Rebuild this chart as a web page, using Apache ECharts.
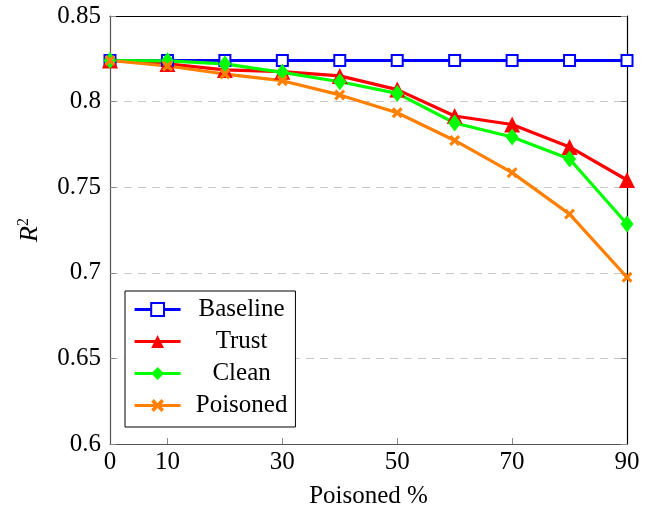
<!DOCTYPE html>
<html>
<head>
<meta charset="utf-8">
<script src="https://cdn.jsdelivr.net/npm/echarts@6/dist/echarts.min.js"></script>
<style>
  html, body { margin: 0; padding: 0; background: #fff; }
  #chart { width: 655px; height: 514px; }
</style>
</head>
<body>
<div id="chart"></div>
<script>
// poisoned percentage (x)
const poisonedPct = [0, 10, 20, 30, 40, 50, 60, 70, 80, 90];
const xTickLabels = [0, 10, 30, 50, 70, 90];

// R^2 values
const baseline = [0.824, 0.824, 0.824, 0.824, 0.824, 0.824, 0.824, 0.824, 0.824, 0.824];
const trust    = [0.824, 0.822, 0.8185, 0.8175, 0.815, 0.807, 0.7916, 0.7866, 0.7735, 0.7542];
const clean    = [0.824, 0.8238, 0.822, 0.8171, 0.8116, 0.8048, 0.7875, 0.7793, 0.7665, 0.7285];
const poisoned = [0.824, 0.8208, 0.8161, 0.8122, 0.8039, 0.7935, 0.7773, 0.7585, 0.7343, 0.6974];

const font = 'Liberation Serif';
const pairs = vals => poisonedPct.map((x, i) => [x, vals[i]]);

const crossPath = 'path://M2,0 L5,3 L8,0 L10,2 L7,5 L10,8 L8,10 L5,7 L2,10 L0,8 L3,5 L0,2 Z';

function mkSeries(name, vals, color, symbol, size) {
  const empty = symbol === 'emptyRect';
  return {
    name: name,
    type: 'line',
    data: pairs(vals),
    symbol: symbol,
    symbolSize: size,
    showSymbol: true,
    lineStyle: { color: color, width: 3.2 },
    itemStyle: {
      color: color,
      borderColor: color,
      borderWidth: empty ? 3 : 0
    },
    emphasis: { disabled: true },
    animation: false
  };
}

const chart = echarts.init(document.getElementById('chart'));
chart.setOption({
  animation: false,
  grid: { left: 110, right: 28, top: 16, bottom: 70 },
  legend: {
    left: 125,
    top: 291,
    orient: 'vertical',
    itemGap: 7,
    itemWidth: 46,
    itemHeight: 16,
    padding: [6, 8, 9, 8],
    borderColor: '#000',
    borderWidth: 1,
    backgroundColor: '#fff',
    lineStyle: { width: 3.2 },
    formatter: '{t|{name}}',
    textStyle: {
      rich: {
        t: { width: 112, height: 25, align: 'center', fontFamily: font, fontSize: 25, color: '#000' }
      }
    },
    data: ['Baseline', 'Trust', 'Clean', 'Poisoned']
  },
  xAxis: [{
    type: 'value',
    min: 0,
    max: 90,
    name: 'Poisoned %',
    nameLocation: 'middle',
    nameGap: 40,
    nameTextStyle: { fontFamily: font, fontSize: 25, color: '#000' },
    axisLine: { show: true, onZero: false, lineStyle: { color: '#555', width: 1.2 } },
    axisTick: { show: true, inside: true, length: 6, customValues: xTickLabels.slice(1, -1), lineStyle: { color: '#888' } },
    axisLabel: { customValues: xTickLabels, fontFamily: font, fontSize: 25, color: '#000', margin: 6 },
    splitLine: { show: false }
  }, {
    type: 'value',
    min: 0,
    max: 90,
    position: 'top',
    axisLine: { show: true, onZero: false, lineStyle: { color: '#000', width: 1.2 } },
    axisTick: { show: false },
    axisLabel: { show: false },
    splitLine: { show: false }
  }],
  yAxis: [{
    type: 'value',
    min: 0.6,
    max: 0.85,
    interval: 0.05,
    name: '{i|R}{s|2}',
    nameLocation: 'middle',
    nameRotate: 90,
    nameGap: 66,
    nameTextStyle: {
      rich: {
        i: { fontFamily: font, fontStyle: 'italic', fontSize: 26, color: '#000' },
        s: { fontFamily: font, fontSize: 16, color: '#000', verticalAlign: 'top', padding: [0, 0, 12, 0] }
      }
    },
    axisLine: { show: true, onZero: false, lineStyle: { color: '#555', width: 1.2 } },
    axisTick: { show: true, inside: true, length: 6, lineStyle: { color: '#888' } },
    axisLabel: {
      fontFamily: font, fontSize: 25, color: '#000', margin: 9,
      formatter: v => String(parseFloat(v.toFixed(2)))
    },
    splitLine: { show: true, lineStyle: { color: '#c8c8c8', type: [8, 6], width: 1.2 } }
  }, {
    type: 'value',
    min: 0.6,
    max: 0.85,
    interval: 0.05,
    position: 'right',
    axisLine: { show: true, onZero: false, lineStyle: { color: '#000', width: 1.2 } },
    axisTick: { show: true, inside: true, length: 6, lineStyle: { color: '#888' } },
    axisLabel: { show: false },
    splitLine: { show: false }
  }],
  series: [
    mkSeries('Baseline', baseline, '#0000ff', 'emptyRect', 11),
    mkSeries('Trust', trust, '#ff0000', 'triangle', 16),
    mkSeries('Clean', clean, '#00ff00', 'diamond', [13, 17]),
    mkSeries('Poisoned', poisoned, '#ff8000', crossPath, 11)
  ]
});
</script>
</body>
</html>
